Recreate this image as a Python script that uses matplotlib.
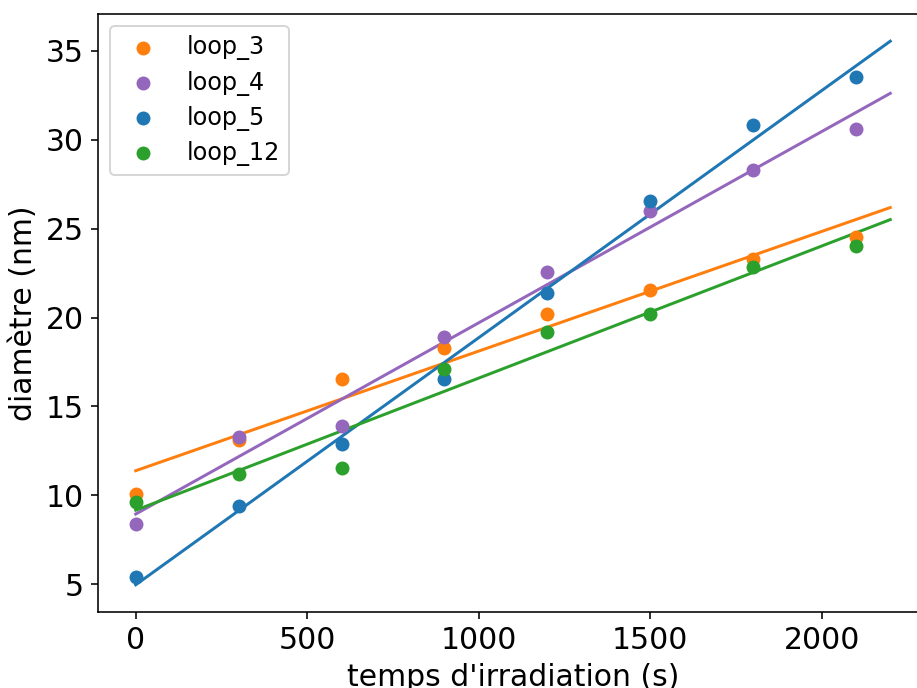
import numpy as np
import matplotlib
matplotlib.use("Agg")
import matplotlib.pyplot as plt

temps = [0, 300, 600, 900, 1200, 1500, 1800, 2100]
loop_3 = [10.06, 13.10, 16.57, 18.26, 20.17, 21.57, 23.31, 24.55]
loop_4 = [8.37, 13.31, 13.88, 18.88, 22.53, 26.01, 28.31, 30.62]
loop_5 = [5.40, 9.38, 12.87, 16.57, 21.35, 26.57, 30.79, 33.54]
loop_12 = [9.61, 11.18, 11.57, 17.13, 19.21, 20.17, 22.81, 24.04]
fit_range = [0, 2200]

series = [("loop_3", loop_3, "C1"), ("loop_4", loop_4, "C4"),
          ("loop_5", loop_5, "C0"), ("loop_12", loop_12, "C2")]

dpi = 143.3
fig = plt.figure(figsize=(917 / dpi, 688 / dpi), dpi=dpi)
ax = fig.add_axes([98 / 917, 76 / 688, 830 / 917, 598 / 688])

for name, vals, col in series:
    ax.scatter(temps, vals, color=col, label=name, zorder=3)
for name, vals, col in series:
    p = np.polyfit(temps, vals, 1)
    xf = np.array(fit_range)
    ax.plot(xf, np.polyval(p, xf), color=col, lw=1.5, zorder=2)

ax.set_xlabel("temps d'irradiation (s)", fontsize=15)
ax.set_ylabel("diamètre (nm)", fontsize=15)
ax.tick_params(labelsize=15)
ax.legend(loc="upper left", fontsize=12, labelspacing=0.42)
fig.savefig("out.png", dpi=dpi)
